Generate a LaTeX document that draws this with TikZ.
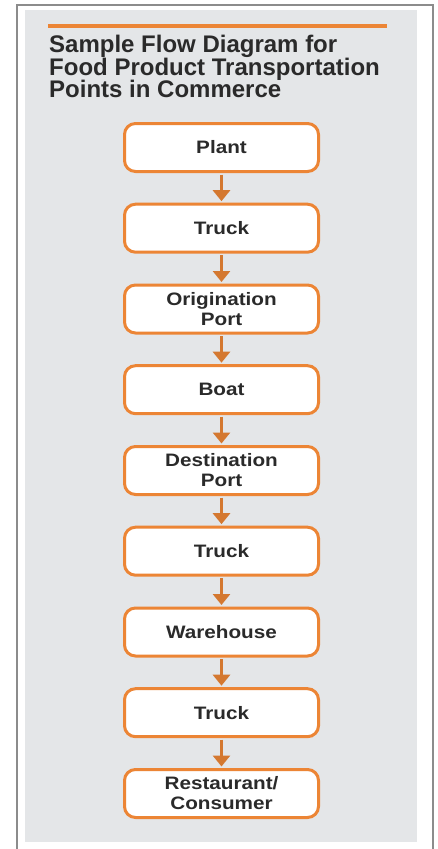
\documentclass[tikz,border=0pt]{standalone}
\usepackage{fontspec}
\setmainfont{Liberation Sans}
\newfontfamily\boxfont[FakeStretch=1.15]{Liberation Sans}
\usetikzlibrary{arrows.meta}
\definecolor{frameg}{HTML}{8C8C8C}
\definecolor{panelg}{HTML}{E4E6E8}
\definecolor{orangeline}{HTML}{EC8535}
\definecolor{txt}{HTML}{2A2A2A}
\tikzset{
  flowbox/.style={draw=orangeline, line width=3pt, fill=white, rounded corners=11pt,
    minimum width=194pt, minimum height=48pt, inner sep=0pt, align=center,
    font=\boxfont\bfseries\fontsize{18}{20}\selectfont, text=txt},
  flowarrow/.style={draw=orangeline!90!black, line width=3pt,
    -{Triangle[length=11pt,width=17pt]}, shorten <=1.5pt, shorten >=1.5pt}
}
\begin{document}
\begin{tikzpicture}[x=1pt,y=-1pt]
\useasboundingbox (0,0) rectangle (437,849);
\fill[white] (0,0) rectangle (437,849);
% outer frame
\draw[frameg, line width=2pt] (17,860) -- (17,5) -- (433,5) -- (433,860);
% panel
\fill[panelg] (25,10) rectangle (417,842);
% top orange rule
\draw[orangeline, line width=4pt] (48,26) -- (387,26);
% title
\node[anchor=north west, align=left, inner sep=0pt, text=txt,
      font=\bfseries\fontsize{24}{22.5}\selectfont] (title) at (49,35)
  {Sample Flow Diagram for\\Food Product Transportation\\Points in Commerce};
% boxes
\node[flowbox] (n1) at (221.5,147.5) {Plant};
\node[flowbox] (n2) at (221.5,228.2) {Truck};
\node[flowbox] (n3) at (221.5,309.0) {Origination\\Port};
\node[flowbox] (n4) at (221.5,389.7) {Boat};
\node[flowbox] (n5) at (221.5,470.5) {Destination\\Port};
\node[flowbox] (n6) at (221.5,551.2) {Truck};
\node[flowbox] (n7) at (221.5,632.0) {Warehouse};
\node[flowbox] (n8) at (221.5,712.7) {Truck};
\node[flowbox] (n9) at (221.5,793.5) {Restaurant/\\Consumer};
% arrows
\foreach \a/\b in {n1/n2,n2/n3,n3/n4,n4/n5,n5/n6,n6/n7,n7/n8,n8/n9}
  \draw[flowarrow] (\a.south) -- (\b.north);
\end{tikzpicture}
\end{document}
